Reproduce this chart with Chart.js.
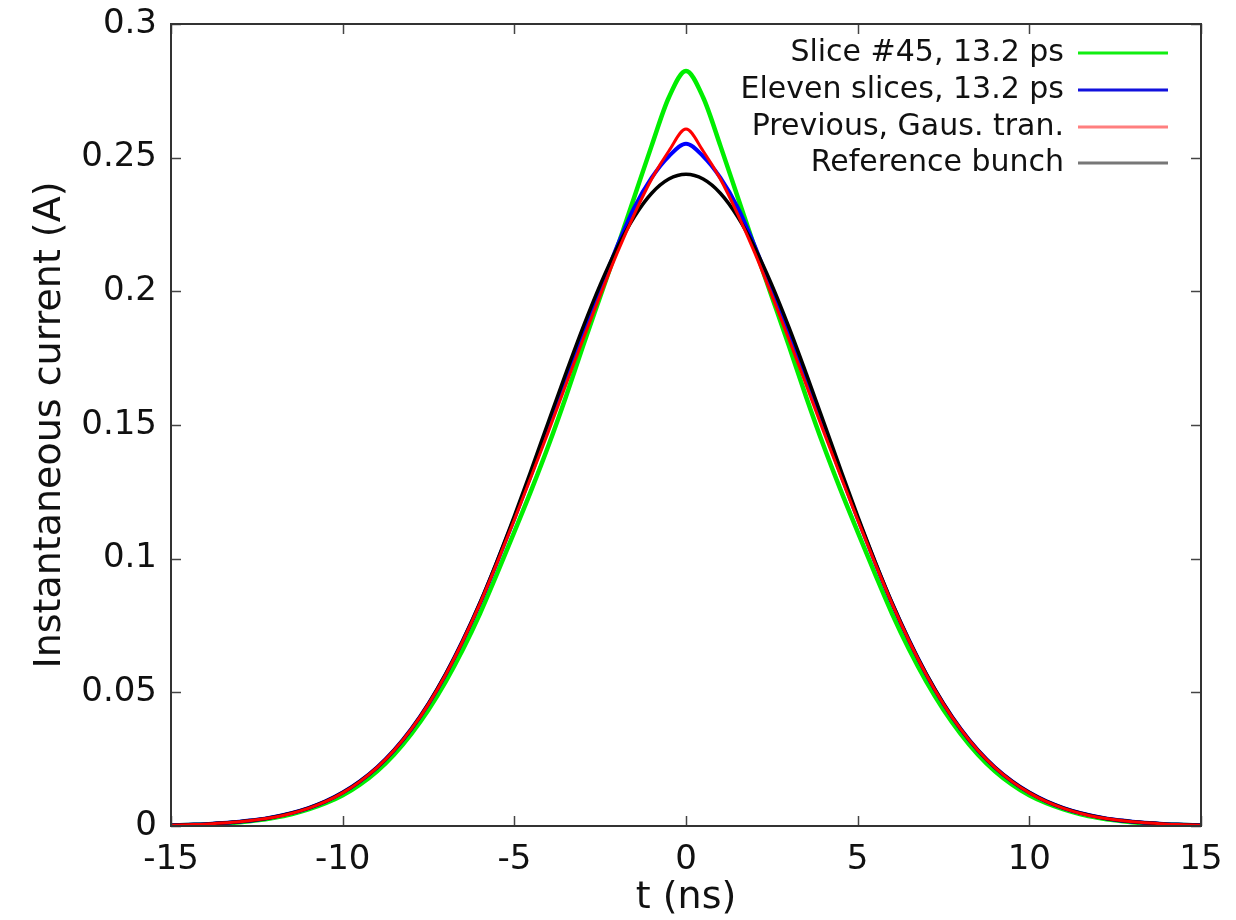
<!DOCTYPE html>
<html>
<head>
<meta charset="utf-8">
<script src="https://cdn.jsdelivr.net/npm/chart.js@4"></script>
<style>
html,body{margin:0;padding:0;background:#fff;}
#wrap{width:1236px;height:920px;position:relative;}
</style>
</head>
<body>
<div id="wrap"><canvas id="c" width="1236" height="920"></canvas></div>
<script>
// time axis (ns)
const tValues = [-15,-14.5,-14,-13.5,-13,-12.5,-12,-11.5,-11,-10.5,-10,-9.5,-9,-8.5,-8,-7.5,-7,-6.5,-6,-5.5,-5,-4.5,-4,-3.5,-3,-2.5,-2,-1.5,-1,-0.5,0,0.5,1,1.5,2,2.5,3,3.5,4,4.5,5,5.5,6,6.5,7,7.5,8,8.5,9,9.5,10,10.5,11,11.5,12,12.5,13,13.5,14,14.5,15];
// Slice #45, 13.2 ps
const slice45 = [0.0002,0.0004,0.0006,0.0009,0.0014,0.0021,0.0031,0.0044,0.0062,0.0085,0.0115,0.0155,0.0205,0.0268,0.0345,0.0435,0.0540,0.0660,0.0795,0.0945,0.1100,0.1258,0.1425,0.1605,0.1795,0.1980,0.2165,0.2355,0.2545,0.2725,0.2824,0.2725,0.2545,0.2355,0.2165,0.1980,0.1795,0.1605,0.1425,0.1258,0.1100,0.0945,0.0795,0.0660,0.0540,0.0435,0.0345,0.0268,0.0205,0.0155,0.0115,0.0085,0.0062,0.0044,0.0031,0.0021,0.0014,0.0009,0.0006,0.0004,0.0002];
// Eleven slices, 13.2 ps
const elevenSlices = [0.0003,0.0005,0.0007,0.0011,0.0016,0.0023,0.0034,0.0048,0.0067,0.0092,0.0125,0.0167,0.0219,0.0284,0.0363,0.0457,0.0567,0.0693,0.0833,0.0988,0.1150,0.1318,0.1493,0.1668,0.1840,0.2005,0.2170,0.2315,0.2425,0.2505,0.2552,0.2505,0.2425,0.2315,0.2170,0.2005,0.1840,0.1668,0.1493,0.1318,0.1150,0.0988,0.0833,0.0693,0.0567,0.0457,0.0363,0.0284,0.0219,0.0167,0.0125,0.0092,0.0067,0.0048,0.0034,0.0023,0.0016,0.0011,0.0007,0.0005,0.0003];
// Previous, Gaus. tran.
const previousGaus = [0.0003,0.0005,0.0007,0.0011,0.0016,0.0023,0.0033,0.0047,0.0066,0.0091,0.0124,0.0166,0.0218,0.0283,0.0362,0.0456,0.0566,0.0692,0.0832,0.0985,0.1145,0.1310,0.1478,0.1650,0.1820,0.1985,0.2145,0.2290,0.2420,0.2525,0.2607,0.2525,0.2420,0.2290,0.2145,0.1985,0.1820,0.1650,0.1478,0.1310,0.1145,0.0985,0.0832,0.0692,0.0566,0.0456,0.0362,0.0283,0.0218,0.0166,0.0124,0.0091,0.0066,0.0047,0.0033,0.0023,0.0016,0.0011,0.0007,0.0005,0.0003];
// Reference bunch
const referenceBunch = [0.0003,0.0005,0.0007,0.0011,0.0016,0.0023,0.0034,0.0048,0.0067,0.0092,0.0125,0.0167,0.0219,0.0284,0.0363,0.0458,0.0568,0.0694,0.0835,0.0992,0.1159,0.1335,0.1515,0.1693,0.1865,0.2024,0.2164,0.2280,0.2367,0.2420,0.2438,0.2420,0.2367,0.2280,0.2164,0.2024,0.1865,0.1693,0.1515,0.1335,0.1159,0.0992,0.0835,0.0694,0.0568,0.0458,0.0363,0.0284,0.0219,0.0167,0.0125,0.0092,0.0067,0.0048,0.0034,0.0023,0.0016,0.0011,0.0007,0.0005,0.0003];

const seriesNames = ['Slice #45, 13.2 ps','Eleven slices, 13.2 ps','Previous, Gaus. tran.','Reference bunch'];
const xTickLabels = ['-15','-10','-5','0','5','10','15'];
const yTickLabels = ['0','0.05','0.1','0.15','0.2','0.25','0.3'];
const xTitle = 't (ns)';
const yTitle = 'Instantaneous current (A)';

const FONT = '"DejaVu Sans", "Liberation Sans", sans-serif';
const lineColors = ['#00ee00','#0000ff','#ff0000','#000000'];
const legendColors = ['#11ee11','#1111dd','#ff7f7f','#777777'];

function pts(arr){ return tValues.map((t,i)=>({x:t,y:arr[i]})); }

const framePlugin = {
  id:'frame',
  afterDraw(chart){
    const {ctx, chartArea:a, scales} = chart;
    ctx.save();
    ctx.strokeStyle = '#444';
    ctx.lineWidth = 1.5;
    const tl = 10;
    xTickLabels.forEach(s=>{
      const x = Math.round(scales.x.getPixelForValue(parseFloat(s)))+0.5;
      ctx.beginPath(); ctx.moveTo(x,a.bottom); ctx.lineTo(x,a.bottom-tl); ctx.stroke();
      ctx.beginPath(); ctx.moveTo(x,a.top); ctx.lineTo(x,a.top+tl); ctx.stroke();
    });
    yTickLabels.forEach(s=>{
      const y = Math.round(scales.y.getPixelForValue(parseFloat(s)))+0.5;
      ctx.beginPath(); ctx.moveTo(a.left,y); ctx.lineTo(a.left+tl,y); ctx.stroke();
      ctx.beginPath(); ctx.moveTo(a.right,y); ctx.lineTo(a.right-tl,y); ctx.stroke();
    });
    ctx.strokeStyle = '#333';
    ctx.lineWidth = 2;
    ctx.strokeRect(a.left, a.top, a.right-a.left, a.bottom-a.top);
    ctx.fillStyle = '#111';
    ctx.font = '38px ' + FONT;
    ctx.textAlign = 'center';
    ctx.textBaseline = 'middle';
    ctx.fillText(xTitle, (a.left+a.right)/2, 898);
    ctx.save();
    ctx.translate(50, (a.top+a.bottom)/2);
    ctx.rotate(-Math.PI/2);
    ctx.fillText(yTitle, 0, 0);
    ctx.restore();
    ctx.font = '30px ' + FONT;
    ctx.textAlign = 'right';
    const rows = [53, 90, 127, 163];
    seriesNames.forEach((n,i)=>{
      ctx.fillStyle = '#111';
      ctx.fillText(n, 1064, rows[i]);
      ctx.strokeStyle = legendColors[i];
      ctx.lineWidth = 3;
      ctx.beginPath(); ctx.moveTo(1078, rows[i]); ctx.lineTo(1168, rows[i]); ctx.stroke();
    });
    ctx.restore();
  }
};

new Chart(document.getElementById('c'), {
  type:'line',
  data:{
    datasets:[
      {label:seriesNames[0], data:pts(slice45), borderColor:lineColors[0], borderWidth:4.5, order:3},
      {label:seriesNames[1], data:pts(elevenSlices), borderColor:lineColors[1], borderWidth:4, order:2},
      {label:seriesNames[2], data:pts(previousGaus), borderColor:lineColors[2], borderWidth:3, order:0},
      {label:seriesNames[3], data:pts(referenceBunch), borderColor:lineColors[3], borderWidth:3.5, order:1}
    ]
  },
  options:{
    responsive:false,
    animation:false,
    devicePixelRatio:1,
    layout:{padding:{top:24,right:35,left:0,bottom:0}},
    elements:{point:{radius:0},line:{cubicInterpolationMode:'monotone'}},
    plugins:{legend:{display:false},tooltip:{enabled:false}},
    scales:{
      x:{
        type:'linear', min:-15, max:15,
        afterFit(s){ s.height = 94; s.paddingLeft = 0; s.paddingRight = 0; },
        grid:{display:false, drawTicks:false},
        border:{display:false},
        ticks:{stepSize:5, padding:14, color:'#111', font:{family:FONT,size:34},
          maxRotation:0, autoSkip:false,
          callback:(v)=>{ const i = xTickLabels.indexOf(String(v)); return i>=0 ? xTickLabels[i] : ''; }}
      },
      y:{
        type:'linear', min:0, max:0.3,
        afterFit(s){ s.width = 171; s.paddingTop = 0; s.paddingBottom = 0; },
        grid:{display:false, drawTicks:false},
        border:{display:false},
        ticks:{stepSize:0.05, padding:14, color:'#111', font:{family:FONT,size:34},
          autoSkip:false,
          callback:(v)=>{ const k = Math.round(v/0.05); return yTickLabels[k] !== undefined ? yTickLabels[k] : ''; }}
      }
    }
  },
  plugins:[framePlugin]
});
</script>
</body>
</html>
